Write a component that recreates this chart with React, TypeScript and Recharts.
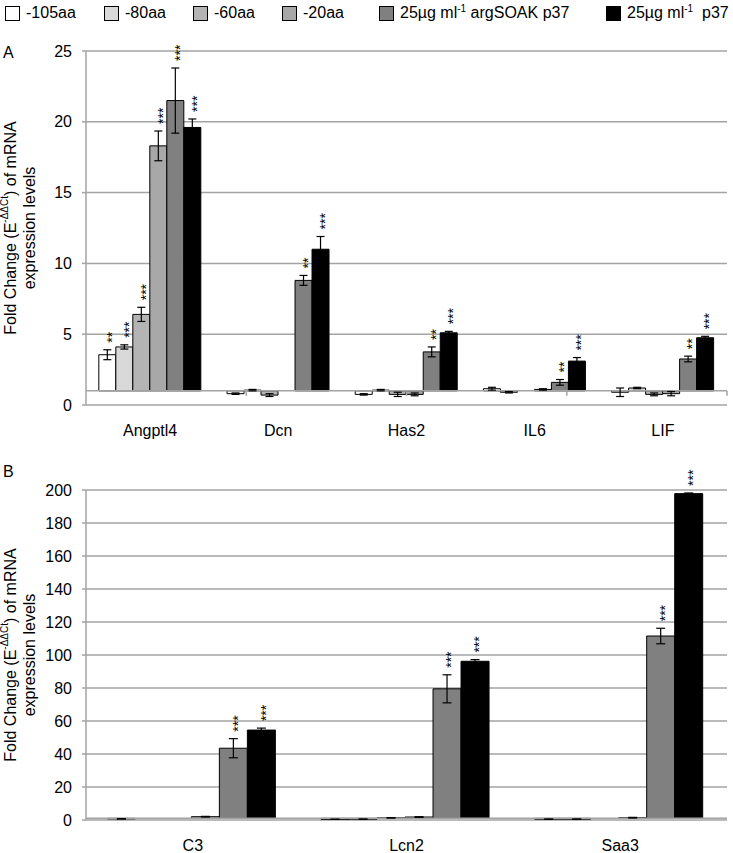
import React from 'react';
import { BarChart, Bar, XAxis, YAxis, CartesianGrid, ErrorBar, LabelList, ReferenceLine } from 'recharts';

// series (legend order)
const seriesNames = ['-105aa', '-80aa', '-60aa', '-20aa', '25µg ml-1 argSOAK p37', '25µg ml-1  p37'];
const seriesColors = ['#ffffff', '#d9d9d9', '#b4b4b4', '#a8a8a8', '#808080', '#000000'];

// panel A
const categoriesA = ['Angptl4', 'Dcn', 'Has2', 'IL6', 'LIF'];
const valuesA = [
  [3.55, 0.8, 0.75, 1.15, 0.9],
  [4.1, 1.05, 1.05, 0.9, 1.2],
  [6.4, 0.7, 0.75, 1.0, 0.75],
  [18.3, 1.0, 0.75, 1.1, 0.8],
  [21.5, 8.8, 3.75, 1.6, 3.25],
  [19.6, 11.0, 5.1, 3.1, 4.75],
];
const errorsA = [
  [0.35, 0.05, 0.05, 0.1, 0.3],
  [0.15, 0.05, 0.05, 0.05, 0.05],
  [0.5, 0.1, 0.15, 0.05, 0.1],
  [1.05, 0.05, 0.1, 0.05, 0.15],
  [2.3, 0.35, 0.35, 0.2, 0.2],
  [0.6, 0.9, 0.1, 0.25, 0.1],
];
const starsA = [
  ['**', '', '', '', ''],
  ['***', '', '', '', ''],
  ['***', '', '', '', ''],
  ['***', '', '', '', ''],
  ['***', '**', '**', '**', '**'],
  ['***', '***', '***', '***', '***'],
];
const ticksA = [0, 5, 10, 15, 20, 25];

// panel B
const categoriesB = ['C3', 'Lcn2', 'Saa3'];
const valuesB = [
  [0.7, 0.4, 0.5],
  [1.0, 0.5, 0.5],
  [1.0, 1.3, 1.0],
  [2.0, 1.8, 1.4],
  [43.5, 79.5, 111.5],
  [54.5, 96.2, 197.8],
];
const errorsB = [
  [0.1, 0.05, 0.05],
  [0.1, 0.05, 0.05],
  [0.1, 0.1, 0.1],
  [0.2, 0.2, 0.2],
  [5.8, 8.5, 4.7],
  [1.2, 1.0, 0.4],
];
const starsB = [
  ['', '', ''],
  ['', '', ''],
  ['', '', ''],
  ['', '', ''],
  ['***', '***', '***'],
  ['***', '***', '***'],
];
const ticksB = [0, 20, 40, 60, 80, 100, 120, 140, 160, 180, 200];

const BASE = 1; // horizontal axis crosses at fold change 1
const FONT = '"Liberation Sans", Arial, sans-serif';
const GRID = '#a3a3a3';

type PanelProps = {
  categories: string[];
  values: number[][];
  errors: number[][];
  stars: string[][];
  ticks: number[];
  top: number;
  height: number;
  marginTop: number;
  marginBottom: number;
  tickDepth: number;
  capWidth: number;
};

const Panel = ({ categories, values, errors, stars, ticks, top, height, marginTop, marginBottom, tickDepth, capWidth }: PanelProps) => {
  const data = categories.map((name, c) => {
    const row: any = { name };
    values.forEach((s, i) => {
      row[`v${i}`] = [BASE, s[c]];
      row[`e${i}`] = errors[i][c];
    });
    return row;
  });

  // significance stars, written vertically above the error bar
  const renderStars = (i: number) => (props: any) => {
    const { x, y, width, height: h, index } = props;
    const s = stars[i][index];
    if (!s) return null;
    const v = values[i][index];
    const pxu = Math.abs(h) / Math.abs(v - BASE);
    const barTop = Math.min(y, y + h);
    const t = barTop - errors[i][index] * pxu - 7;
    const cx = x + width / 2;
    return (
      <text
        x={cx}
        y={t}
        transform={`rotate(-90 ${cx} ${t})`}
        fontSize={14}
        fontFamily={FONT}
        fill="#000"
        textAnchor="start"
        dominantBaseline="central"
        dy="0.3em"
      >
        {s}
      </text>
    );
  };

  return (
    <div style={{ position: 'absolute', left: 0, top }}>
      <BarChart
        width={733}
        height={height}
        data={data}
        margin={{ top: marginTop, right: 6, bottom: marginBottom, left: 0 }}
        barCategoryGap="10%"
        barGap={0}
      >
        <CartesianGrid vertical={false} stroke={GRID} strokeWidth={1.5} />
        <XAxis
          dataKey="name"
          axisLine={false}
          tickLine={false}
          tickMargin={14}
          height={30}
          interval={0}
          tick={{ fill: '#000', fontSize: 16, fontFamily: FONT }}
        />
        <XAxis xAxisId="n" type="number" domain={[0, categories.length]} hide />
        <YAxis
          domain={[0, ticks[ticks.length - 1]]}
          ticks={ticks}
          interval={0}
          width={86}
          tickSize={4}
          tickMargin={10}
          axisLine={{ stroke: GRID, strokeWidth: 1.5 }}
          tickLine={{ stroke: GRID, strokeWidth: 1.5 }}
          tick={{ fill: '#000', fontSize: 16, fontFamily: FONT }}
        />
        <ReferenceLine y={BASE} stroke={GRID} strokeWidth={1.5} />
        {categories.map((_, c) => (
          <ReferenceLine
            key={c}
            xAxisId="n"
            segment={[{ x: c + 1, y: BASE }, { x: c + 1, y: BASE - tickDepth }]}
            stroke={GRID}
            strokeWidth={1.5}
          />
        ))}
        {values.map((_, i) => (
          <Bar
            key={i}
            dataKey={`v${i}`}
            fill={seriesColors[i]}
            stroke="#000"
            strokeWidth={1}
            isAnimationActive={false}
          >
            <ErrorBar
              dataKey={(d: any) => (d && d.payload ? d.payload : d)[`e${i}`]}
              direction="y"
              width={capWidth}
              stroke="#000"
              strokeWidth={1.2}
            />
            <LabelList content={renderStars(i)} />
          </Bar>
        ))}
      </BarChart>
    </div>
  );
};

const YTitle = ({ cy }: { cy: number }) => (
  <g fontFamily={FONT} fontSize={16} fill="#000">
    <text x={10} y={cy} transform={`rotate(-90 10 ${cy})`} textAnchor="middle" dominantBaseline="central">
      <tspan>Fold Change (E</tspan>
      <tspan fontSize={10} dy={-6}>-ΔΔCt</tspan>
      <tspan dy={6}>) of mRNA</tspan>
    </text>
    <text x={29} y={cy} transform={`rotate(-90 29 ${cy})`} textAnchor="middle" dominantBaseline="central">
      expression levels
    </text>
  </g>
);

const legendX = [5, 104, 193, 282, 379, 606];

const LegendLabel = ({ name }: { name: string }) => {
  if (name.includes('ml-1')) {
    const [a, b] = name.split('ml-1');
    return (
      <span style={{ whiteSpace: 'pre' }}>
        {a}ml<sup style={{ fontSize: 10, verticalAlign: 'top', lineHeight: '12px' }}>-1</sup>{b}
      </span>
    );
  }
  return <span>{name}</span>;
};

const App = () => (
  <div
    style={{
      position: 'absolute',
      left: 0,
      top: 0,
      width: 733,
      height: 853,
      background: '#fff',
      fontFamily: FONT,
      overflow: 'hidden',
    }}
  >
    {seriesNames.map((n, i) => (
      <div
        key={n}
        style={{
          position: 'absolute',
          left: legendX[i],
          top: 3,
          display: 'flex',
          alignItems: 'center',
          fontSize: 16,
          lineHeight: '20px',
          color: '#000',
        }}
      >
        <div
          style={{
            width: 13,
            height: 13,
            background: seriesColors[i],
            border: '1px solid #000',
            marginRight: 6,
          }}
        />
        <LegendLabel name={n} />
      </div>
    ))}
    <Panel
      categories={categoriesA}
      values={valuesA}
      errors={errorsA}
      stars={starsA}
      ticks={ticksA}
      top={0}
      height={440}
      marginTop={51}
      marginBottom={5}
      tickDepth={0.35}
      capWidth={4}
    />
    <Panel
      categories={categoriesB}
      values={valuesB}
      errors={errorsB}
      stars={starsB}
      ticks={ticksB}
      top={440}
      height={413}
      marginTop={50}
      marginBottom={3}
      tickDepth={3.5}
      capWidth={4.5}
    />
    <svg width={733} height={853} style={{ position: 'absolute', left: 0, top: 0, pointerEvents: 'none' }}>
      <text x={3} y={58} fontFamily={FONT} fontSize={16}>A</text>
      <text x={3} y={477} fontFamily={FONT} fontSize={16}>B</text>
      <YTitle cy={228} />
      <YTitle cy={655} />
    </svg>
  </div>
);

export default App;
